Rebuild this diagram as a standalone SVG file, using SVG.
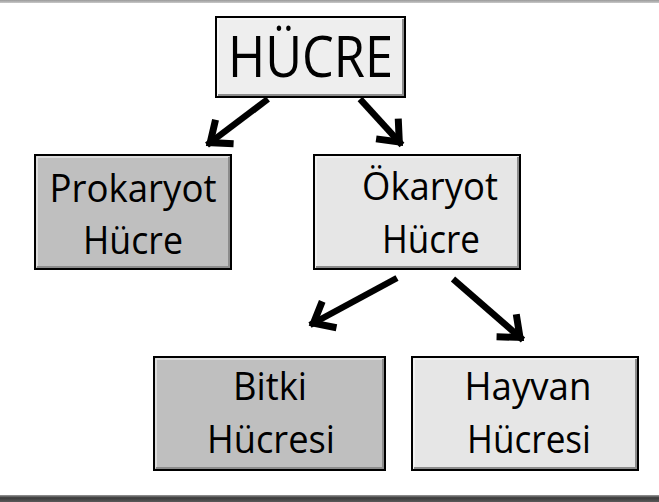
<svg xmlns="http://www.w3.org/2000/svg" width="659" height="502" viewBox="0 0 659 502">
  <defs>
    <linearGradient id="topband" x1="0" y1="0" x2="0" y2="1">
      <stop offset="0" stop-color="#9a9a9a"/>
      <stop offset="1" stop-color="#c8c8c8"/>
    </linearGradient>
    <linearGradient id="botband" x1="0" y1="0" x2="0" y2="1">
      <stop offset="0" stop-color="#9a9a9a"/>
      <stop offset="0.4" stop-color="#3a3a3a"/>
      <stop offset="1" stop-color="#5a5a5a"/>
    </linearGradient>
    <marker id="head" markerUnits="userSpaceOnUse" markerWidth="44" markerHeight="44" viewBox="-32 -22 44 44" refX="0" refY="0" orient="auto">
      <path d="M -22 -15 L -4 0 L -22 15" fill="none" stroke="#000" stroke-width="7" stroke-linecap="butt" stroke-linejoin="miter"/>
    </marker>
    <style>
      .box { stroke: #000; stroke-width: 2; }
      .light { fill: #e6e6e6; }
      .dark { fill: #bfbfbf; }
      .top { fill: #eeeeee; }
      .shade { fill: none; stroke: #8c8c8c; stroke-width: 2; }
      .hi { fill: none; stroke: #ffffff; stroke-opacity: 0.6; stroke-width: 1.5; }
      .t { font-family: "Open Sans", "Noto Sans", sans-serif; fill: #000; text-anchor: middle; }
      .lbl { font-size: 38px; }
      .big { font-size: 56px; }
      .arrow { stroke: #000; stroke-width: 6.5; fill: none; marker-end: url(#head); }
    </style>
  </defs>

  <rect x="0" y="0" width="659" height="502" fill="#ffffff"/>
  <rect x="0" y="0" width="659" height="3" fill="url(#topband)"/>
  <rect x="0" y="495" width="659" height="7" fill="url(#botband)"/>

  <g id="connectors">
    <line class="arrow" x1="268" y1="99" x2="207" y2="145"/>
    <line class="arrow" x1="360" y1="99" x2="402" y2="145"/>
    <line class="arrow" x1="397" y1="278" x2="310" y2="325"/>
    <line class="arrow" x1="453" y1="279" x2="523" y2="340"/>
  </g>

  <g id="hucre">
    <rect class="box top" x="216" y="17" width="189" height="80"/>
    <polyline class="hi" points="218,95 218,19 403,19"/>
    <polyline class="shade" points="218,95 403,95 403,19"/>
    <text class="t big" x="310.5" y="77" textLength="165" lengthAdjust="spacingAndGlyphs">HÜCRE</text>
  </g>

  <g id="prokaryot">
    <rect class="box dark" x="35" y="155" width="196" height="114"/>
    <polyline class="hi" points="37,267 37,157 229,157"/>
    <polyline class="shade" points="37,267 229,267 229,157"/>
    <text class="t lbl" x="133" y="202" textLength="167" lengthAdjust="spacingAndGlyphs">Prokaryot</text>
    <text class="t lbl" x="133" y="254" textLength="100" lengthAdjust="spacingAndGlyphs">Hücre</text>
  </g>

  <g id="okaryot">
    <rect class="box light" x="314" y="155" width="206" height="114"/>
    <polyline class="hi" points="316,267 316,157 518,157"/>
    <polyline class="shade" points="316,267 518,267 518,157"/>
    <text class="t lbl" x="430" y="200" textLength="136" lengthAdjust="spacingAndGlyphs">Ökaryot</text>
    <text class="t lbl" x="431" y="253" textLength="98" lengthAdjust="spacingAndGlyphs">Hücre</text>
  </g>

  <g id="bitki">
    <rect class="box dark" x="154" y="357" width="231" height="113"/>
    <polyline class="hi" points="156,468 156,359 383,359"/>
    <polyline class="shade" points="156,468 383,468 383,359"/>
    <text class="t lbl" x="270" y="400" textLength="74" lengthAdjust="spacingAndGlyphs">Bitki</text>
    <text class="t lbl" x="271" y="453" textLength="128" lengthAdjust="spacingAndGlyphs">Hücresi</text>
  </g>

  <g id="hayvan">
    <rect class="box light" x="412" y="357" width="226" height="113"/>
    <polyline class="hi" points="414,468 414,359 636,359"/>
    <polyline class="shade" points="414,468 636,468 636,359"/>
    <text class="t lbl" x="528" y="400" textLength="127" lengthAdjust="spacingAndGlyphs">Hayvan</text>
    <text class="t lbl" x="529" y="453" textLength="124" lengthAdjust="spacingAndGlyphs">Hücresi</text>
  </g>
</svg>
